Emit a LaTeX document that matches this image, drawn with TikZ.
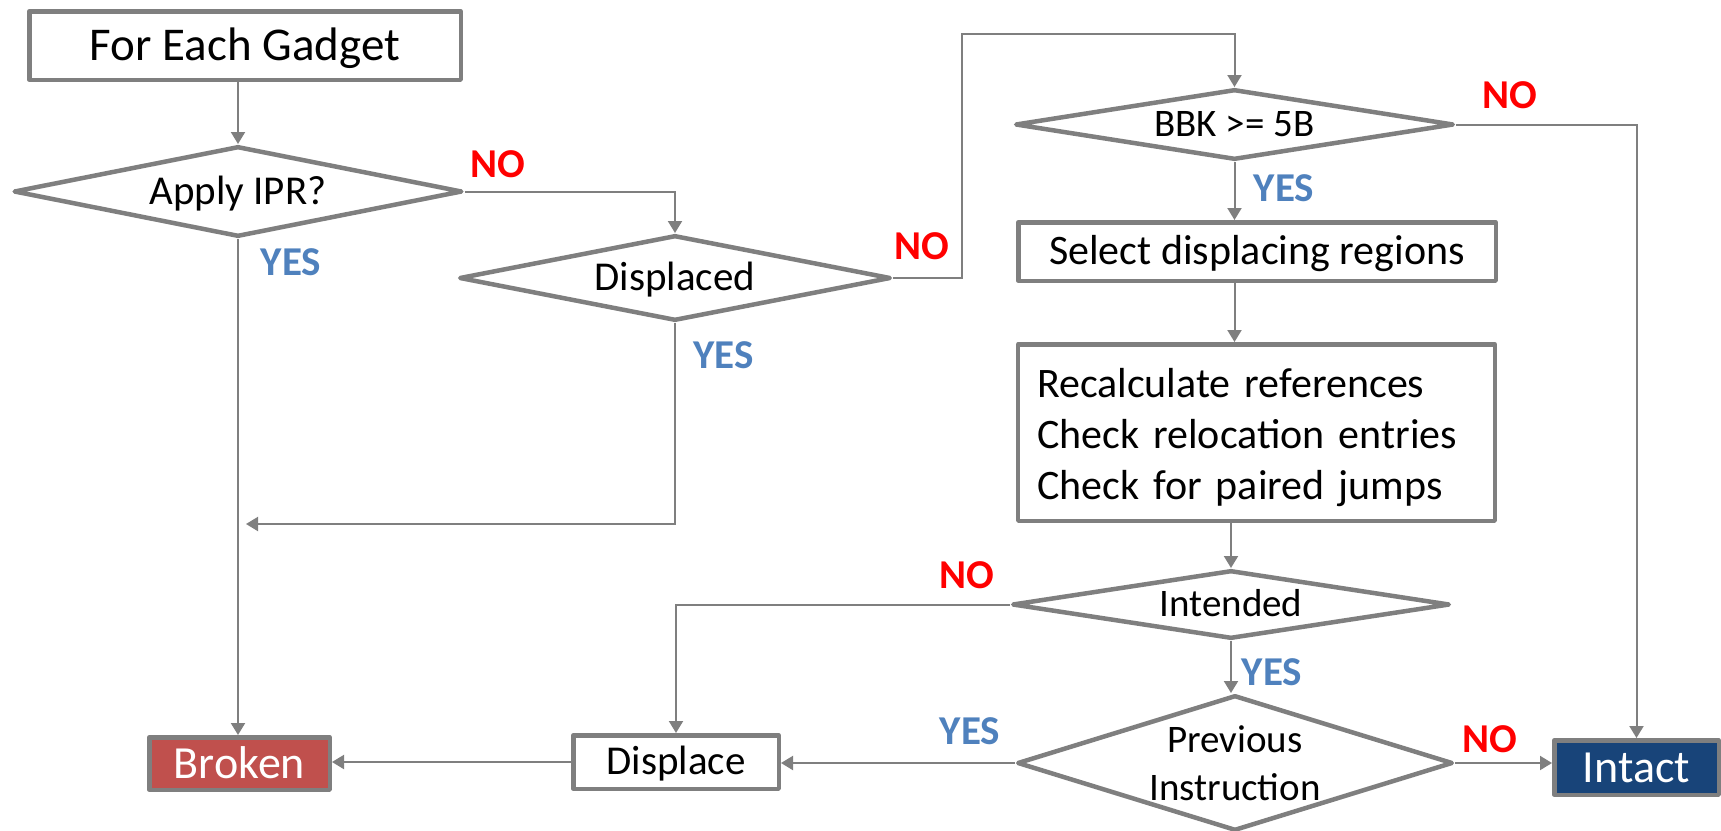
\documentclass[tikz,border=0pt]{standalone}
\usepackage{fontspec}
\setmainfont{Carlito}
\usetikzlibrary{shapes.geometric,arrows.meta}

\definecolor{linegray}{HTML}{7F7F7F}
\definecolor{nored}{HTML}{FF0000}
\definecolor{yesblue}{HTML}{4F81BD}
\definecolor{brokenred}{HTML}{C0504D}
\definecolor{intactblue}{HTML}{184479}

\newcommand\labfont{\bfseries\fontsize{20.5}{24.6}\selectfont}

\begin{document}
\begin{tikzpicture}[x=0.5pt, y=-0.5pt,
  shapeline/.style={draw=linegray, line width=2.25pt, line join=round},
  procbox/.style={shapeline, rectangle, fill=white, inner sep=0pt, text depth=0pt},
  decision/.style={shapeline, diamond, fill=white, inner sep=0pt},
  dtext/.style={inner sep=0pt, align=center},
  flow/.style={draw=linegray, line width=1pt, -{Triangle[length=6pt,width=7pt]}},
  nolabel/.style={text=nored, font=\labfont, inner sep=0pt, text height=12.96pt, text depth=0pt},
  yeslabel/.style={text=yesblue, font=\labfont, inner sep=0pt, text height=12.96pt, text depth=0pt}]

\useasboundingbox (0,0) rectangle (1721,831);

% process boxes
\node[procbox, minimum width=215.75pt, minimum height=34.25pt,
      font=\fontsize{23.5}{28.2}\selectfont, text height=14.85pt] (fe) at (245,45.5) {For Each Gadget};
\node[procbox, minimum width=238.75pt, minimum height=29.25pt,
      font=\fontsize{21}{25.2}\selectfont, text height=13.27pt] (sel) at (1257,251.5) {Select displacing regions};
\node[shapeline, rectangle, fill=white, inner xsep=9.4pt, inner ysep=0pt,
      minimum width=238.25pt, minimum height=88.25pt, text width=219.5pt, align=left,
      font=\fontsize{21}{25.5}\selectfont] (big) at (1256.5,432.5)
      {\rule{0pt}{19.5pt}Recalculate references\\Check relocation entries\\Check for paired jumps};
\node[procbox, minimum width=102.75pt, minimum height=26.75pt,
      font=\fontsize{20.5}{24.6}\selectfont, text height=12.96pt] (disp) at (676,762) {Displace};
\node[procbox, fill=brokenred, text=white, minimum width=90.25pt, minimum height=26.25pt,
      font=\fontsize{23}{27.6}\selectfont, text height=14.54pt] (broken) at (239.5,763.5) {Broken};
\node[procbox, fill=intactblue, text=white, minimum width=82.25pt, minimum height=27.25pt,
      font=\fontsize{23}{27.6}\selectfont, text height=14.54pt] (intact) at (1636.5,767.5) {Intact};

% decisions
\node[decision, minimum width=224.25pt, minimum height=45.25pt] (d1) at (238,191.5) {};
\node[dtext, font=\fontsize{20.5}{24.6}\selectfont, text height=12.96pt, text depth=0pt] (d1t) at (d1) {Apply IPR?};
\node[decision, minimum width=215.75pt, minimum height=42.75pt] (d2) at (675,278) {};
\node[dtext, font=\fontsize{20.5}{24.6}\selectfont, text height=12.96pt, text depth=0pt] (d2t) at (d2) {Displaced};
\node[decision, minimum width=219.25pt, minimum height=35.25pt] (d3) at (1234.5,124.5) {};
\node[dtext, font=\fontsize{19.5}{23.4}\selectfont, text height=12.32pt, text depth=0pt] (d3t) at (d3) {BBK >= 5B};
\node[decision, minimum width=218.75pt, minimum height=34.25pt] (d4) at (1231,604.5) {};
\node[dtext, font=\fontsize{19.5}{23.4}\selectfont, text height=12.32pt, text depth=0pt] (d4t) at (d4) {Intended};
\node[decision, minimum width=217.75pt, minimum height=67.75pt] (d5) at (1235,763) {};
\node[dtext, font=\fontsize{19.5}{24}\selectfont] (d5t) at (d5) {Previous\\Instruction};

% connectors
\coordinate (loop) at (962,34);
\coordinate (join) at (246,524);
\draw[flow] (d1.north |- fe.south) -- (d1.north);
\draw[flow] (d1.east) -| (d2.north);
\draw[flow] (d2.east) -| (loop) -| (d3.north);
\draw[flow] (d3.south) -- (d3.south |- sel.north);
\draw[flow] (sel.south -| d3.south) -- (big.north -| d3.south);
\draw[flow] (big.south -| d4.north) -- (d4.north);
\draw[flow] (d4.south) -- (d4.south |- d5.north);
\draw[flow] (d3.east) -| (intact.north);
\draw[flow] (d5.east) -- (d5.east -| intact.west);
\draw[flow] (d5.west) -- (d5.west -| disp.east);
\draw[flow] (d4.west) -| (disp.north);
\draw[flow] (disp.west) -- (disp.west -| broken.east);
\draw[flow] (d1.south) -- (d1.south |- broken.north);
\draw[flow] (d2.south) |- (join);

% branch labels
\node[nolabel] (no1) at (498,165) {NO};
\node[yeslabel] (yes1) at (291,263) {YES};
\node[nolabel] (no2) at (922,246.5) {NO};
\node[yeslabel] (yes2) at (723.5,355.5) {YES};
\node[nolabel] (no3) at (1510,96) {NO};
\node[yeslabel] (yes3) at (1284,189) {YES};
\node[nolabel] (no4) at (967,575.5) {NO};
\node[yeslabel] (yes4) at (1272,673) {YES};
\node[yeslabel] (yes5) at (970,731.5) {YES};
\node[nolabel] (no5) at (1489.5,740) {NO};

\end{tikzpicture}
\end{document}
